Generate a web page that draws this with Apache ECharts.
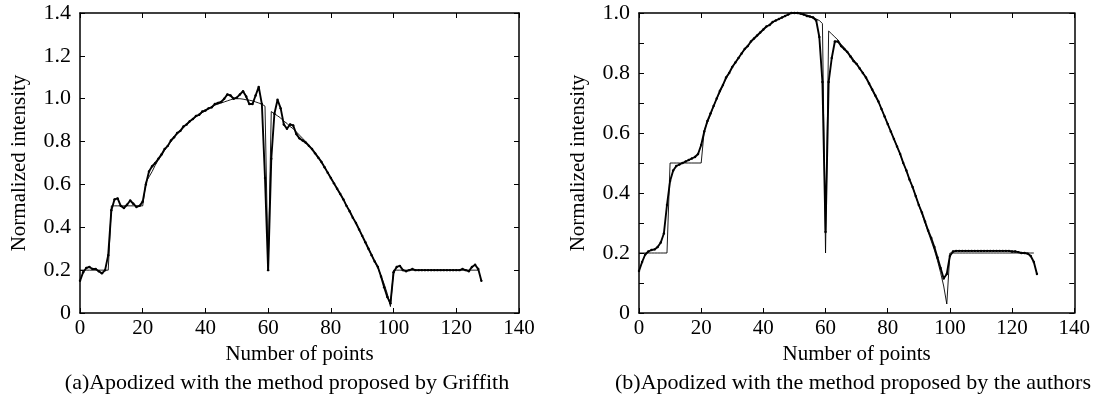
<!DOCTYPE html>
<html>
<head>
<meta charset="utf-8">
<script src="https://cdn.jsdelivr.net/npm/echarts@6/dist/echarts.min.js"></script>
<style>
  html, body { margin: 0; padding: 0; background: #fff; }
  #chart { width: 1093px; height: 401px; }
</style>
</head>
<body>
<div id="chart"></div>
<script>
// ideal (thin) profile, samples 0..127
const ideal = [
  0.2, 0.2, 0.2, 0.2, 0.2, 0.2, 0.2, 0.2, 0.2, 0.2,
  0.5, 0.5, 0.5, 0.5, 0.5, 0.5, 0.5, 0.5, 0.5, 0.5, 0.5,
  0.61, 0.635, 0.66, 0.69, 0.715, 0.735, 0.76, 0.78, 0.80, 0.82,
  0.835, 0.85, 0.865, 0.88, 0.89, 0.905, 0.915, 0.925, 0.935, 0.945,
  0.955, 0.96, 0.97, 0.975, 0.98, 0.985, 0.99, 0.995, 1.0, 1.0,
  1.0, 0.998, 0.995, 0.993, 0.99, 0.985, 0.98, 0.975, 0.965,
  0.2,
  0.94, 0.93, 0.92, 0.91, 0.895, 0.885, 0.87, 0.86, 0.845, 0.83,
  0.815, 0.80, 0.785, 0.765, 0.745, 0.725, 0.705, 0.68, 0.655, 0.63,
  0.605, 0.58, 0.555, 0.53, 0.50, 0.475, 0.445, 0.42, 0.39, 0.36,
  0.33, 0.30, 0.27, 0.24, 0.21, 0.175, 0.135, 0.09, 0.03,
  0.2, 0.2, 0.2, 0.2, 0.2, 0.2, 0.2, 0.2, 0.2, 0.2,
  0.2, 0.2, 0.2, 0.2, 0.2, 0.2, 0.2, 0.2, 0.2, 0.2,
  0.2, 0.2, 0.2, 0.2, 0.2, 0.2, 0.2, 0.2
];

// (a) Griffith apodization, samples 0..128
const griffith = [
  0.15, 0.19, 0.21, 0.215, 0.205, 0.205, 0.195, 0.185, 0.2, 0.27,
  0.48, 0.53, 0.535, 0.5, 0.49, 0.505, 0.525, 0.51, 0.495, 0.5,
  0.52, 0.6, 0.66, 0.685, 0.7, 0.72, 0.74, 0.765, 0.78, 0.805,
  0.82, 0.84, 0.85, 0.87, 0.88, 0.895, 0.905, 0.92, 0.925, 0.94,
  0.945, 0.955, 0.96, 0.975, 0.98, 0.985, 1.0, 1.02, 1.015, 1.0,
  1.005, 1.02, 1.035, 1.01, 0.975, 0.975, 1.015, 1.055, 0.975, 0.63,
  0.2, 0.72, 0.93, 0.995, 0.955, 0.88, 0.86, 0.88, 0.875, 0.835,
  0.815, 0.805, 0.795, 0.78, 0.765, 0.745, 0.725, 0.705, 0.68, 0.655,
  0.63, 0.605, 0.58, 0.555, 0.53, 0.5, 0.475, 0.445, 0.42, 0.39,
  0.36, 0.33, 0.3, 0.27, 0.24, 0.215, 0.17, 0.12, 0.075, 0.045,
  0.19, 0.215, 0.22, 0.2, 0.195, 0.2, 0.205, 0.2, 0.2, 0.2,
  0.2, 0.2, 0.2, 0.2, 0.2, 0.2, 0.2, 0.2, 0.2, 0.2, 0.2,
  0.2, 0.205, 0.2, 0.195, 0.215, 0.225, 0.205, 0.15
];

// (b) authors' apodization, samples 0..128
const authors = [
  0.14, 0.17, 0.195, 0.205, 0.21, 0.212, 0.22, 0.235, 0.265, 0.36,
  0.44, 0.475, 0.49, 0.495, 0.5, 0.505, 0.51, 0.515, 0.52, 0.53,
  0.56, 0.605, 0.64, 0.665, 0.69, 0.715, 0.74, 0.76, 0.785, 0.80,
  0.82, 0.835, 0.85, 0.865, 0.88, 0.89, 0.905, 0.915, 0.925, 0.935,
  0.945, 0.955, 0.96, 0.97, 0.975, 0.98, 0.985, 0.99, 0.995, 1.0,
  1.0, 1.0, 0.998, 0.995, 0.99, 0.988, 0.985, 0.975, 0.92, 0.77,
  0.27, 0.77, 0.85, 0.905, 0.905, 0.89, 0.88, 0.87, 0.855, 0.84,
  0.83, 0.815, 0.80, 0.785, 0.765, 0.745, 0.725, 0.705, 0.68, 0.655,
  0.63, 0.605, 0.58, 0.555, 0.53, 0.5, 0.475, 0.445, 0.42, 0.39,
  0.36, 0.335, 0.305, 0.275, 0.25, 0.22, 0.185, 0.15, 0.115, 0.13,
  0.19, 0.205, 0.207,
  0.207, 0.207, 0.207, 0.207, 0.207, 0.207, 0.207, 0.207, 0.207, 0.207,
  0.207, 0.207, 0.207, 0.207, 0.207, 0.207, 0.207,
  0.205, 0.205, 0.203, 0.2, 0.2, 0.198, 0.19, 0.17, 0.13
];

const captions = [
  '(a)Apodized with the method proposed by Griffith',
  '(b)Apodized with the method proposed by the authors'
];

const toPairs = (arr) => arr.map((v, i) => [i, v]);

const font = 'Liberation Serif';
const ink = '#000';

const chart = echarts.init(document.getElementById('chart'));

const grids = [
  { left: 80, top: 13, width: 439, height: 300 },
  { left: 639, top: 13, width: 439, height: 300 }
];

const xAxes = [];
const yAxes = [];
[0, 1].forEach((g) => {
  const base = {
    gridIndex: g, type: 'value', min: 0, max: 140, interval: 20,
    axisLine: { show: true, onZero: false, lineStyle: { color: ink, width: 1.5 } },
    axisTick: { show: true, inside: true, length: 5, lineStyle: { color: ink } },
    splitLine: { show: false }
  };
  xAxes.push(Object.assign({}, base, {
    position: 'bottom',
    name: 'Number of points', nameLocation: 'middle', nameGap: 31,
    nameTextStyle: { fontFamily: font, fontSize: 21, color: ink },
    axisLabel: { fontFamily: font, fontSize: 21, color: ink, margin: 5 }
  }));
  xAxes.push(Object.assign({}, base, {
    position: 'top', axisLabel: { show: false }
  }));

  const yMax = g === 0 ? 1.4 : 1.0;
  const yInt = g === 0 ? 0.2 : 0.1;
  const ybase = {
    gridIndex: g, type: 'value', min: 0, max: yMax, interval: yInt,
    axisLine: { show: true, onZero: false, lineStyle: { color: ink, width: 1.5 } },
    axisTick: { show: true, inside: true, length: 5, lineStyle: { color: ink } },
    splitLine: { show: false }
  };
  yAxes.push(Object.assign({}, ybase, {
    position: 'left',
    name: 'Normalized intensity', nameLocation: 'middle', nameGap: 50,
    nameTextStyle: { fontFamily: font, fontSize: 21, color: ink },
    axisLabel: {
      fontFamily: font, fontSize: 22, color: ink, margin: 9,
      formatter: (v) => {
        if (Math.abs(v) < 1e-9) return '0';
        if (g === 1 && Math.round(v * 10) % 2 !== 0) return '';
        return v.toFixed(1);
      }
    }
  }));
  yAxes.push(Object.assign({}, ybase, {
    position: 'right', axisLabel: { show: false }
  }));
});

const thin = (g, data) => ({
  type: 'line', xAxisIndex: g * 2, yAxisIndex: g * 2, data: toPairs(data),
  showSymbol: false, symbol: 'none', lineStyle: { color: ink, width: 0.9 },
  silent: true, animation: false
});
const thick = (g, data) => ({
  type: 'line', xAxisIndex: g * 2, yAxisIndex: g * 2, data: toPairs(data),
  symbol: 'circle', symbolSize: 2.4, showSymbol: true,
  itemStyle: { color: ink }, lineStyle: { color: ink, width: 1.9 },
  silent: true, animation: false
});

chart.setOption({
  backgroundColor: '#fff',
  animation: false,
  title: [
    { text: captions[0], left: 282, top: 367, textAlign: 'center',
      textStyle: { fontFamily: font, fontSize: 22, fontWeight: 'normal', color: ink } },
    { text: captions[1], left: 848, top: 367, textAlign: 'center',
      textStyle: { fontFamily: font, fontSize: 22, fontWeight: 'normal', color: ink } }
  ],
  grid: grids,
  xAxis: xAxes,
  yAxis: yAxes,
  series: [
    thick(0, griffith),
    thin(0, ideal),
    thick(1, authors),
    thin(1, ideal)
  ]
});
</script>
</body>
</html>
